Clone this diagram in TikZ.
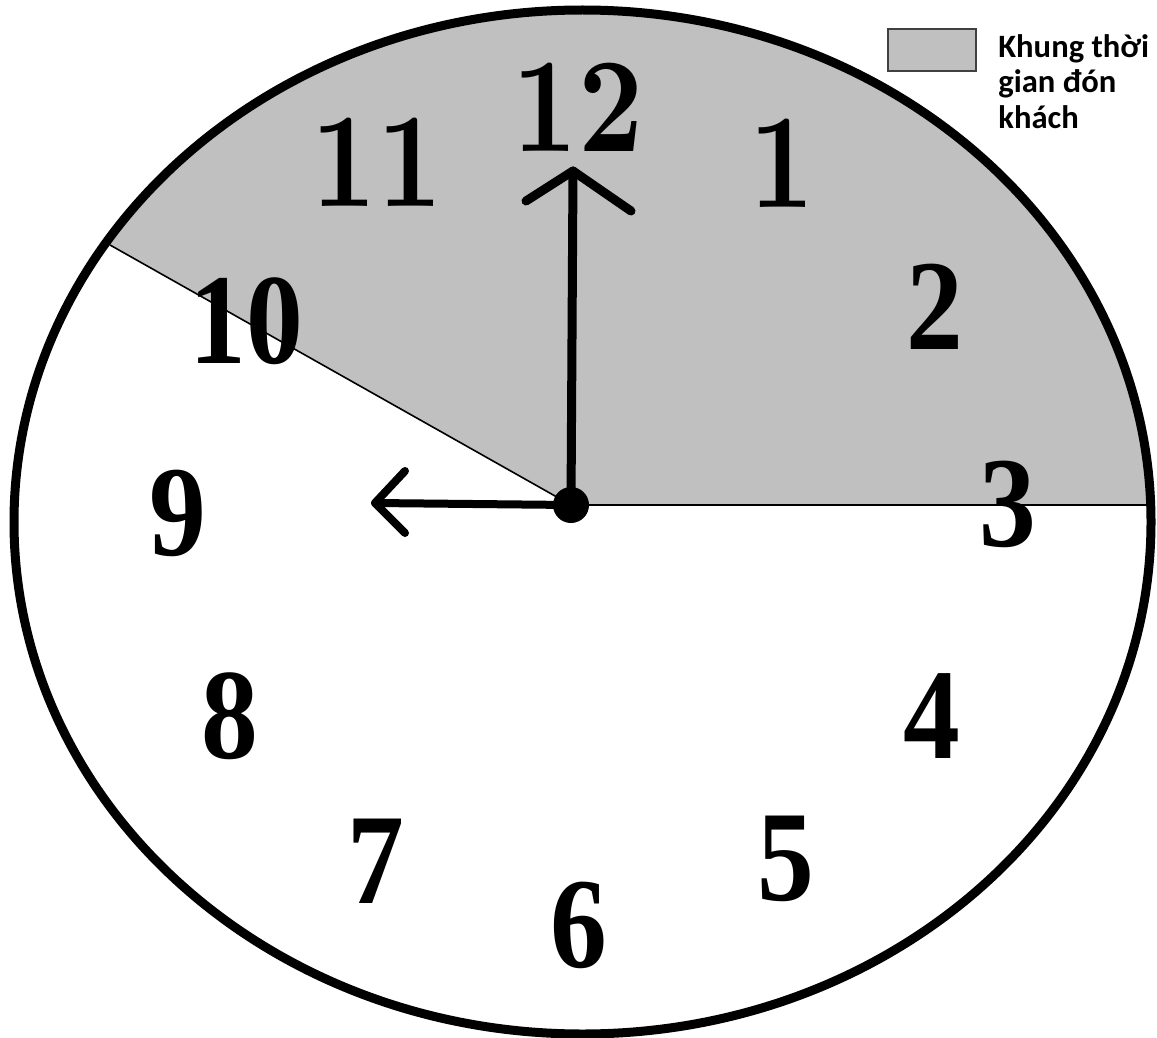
\documentclass[tikz,border=0pt]{standalone}
\usepackage{fontspec}
\newfontfamily\legendfont{Carlito}
\newfontfamily\dialfont[FakeStretch=0.88]{Liberation Serif}
\newfontfamily\cmdial[FakeStretch=0.84]{lmroman10-bold.otf}
\definecolor{clkgray}{RGB}{192,192,192}
\definecolor{keyedge}{RGB}{64,64,64}
\usetikzlibrary{positioning}

\begin{document}
\begin{tikzpicture}[x=0.5pt,y=-0.5pt,
  hand/.style={line width=4.5pt,line cap=round,line join=round},
  divider/.style={line width=0.8pt},
  numtm/.style={inner sep=0,font=\dialfont\bfseries\fontsize{64.5}{70}\selectfont},
  numcm/.style={inner sep=0,font=\cmdial\fontsize{67.5}{70}\selectfont},
  keybox/.style={draw=keyedge,line width=1pt,fill=clkgray,minimum width=44pt,minimum height=21pt,inner sep=0}]
  \useasboundingbox (0,0) rectangle (1157,1038);
  \coordinate (c) at (571,505);
  \coordinate (rim10) at (110,245);
  \coordinate (rim3) at (1151,505);
  % Pickup period
  \begin{scope}
    \clip (582.5,522) ellipse [x radius=568.5,y radius=512];
    \fill[clkgray] (c) -- (1200,505) -- (1200,-20) -- (-50,-20) -- (-50,155) -- cycle;
  \end{scope}
  \draw[divider] (c) -- (rim10);
  \draw[divider] (c) -- (rim3);
  \draw[line width=4.5pt] (582.5,522) ellipse [x radius=568.5,y radius=512];
  % Dial numbers
  \node[numcm] (n12) at (578,107) {12};
  \node[numcm] (n11) at (377,162) {11};
  \node[numcm] (n1) at (782,163) {1};
  \node[numtm] (n10) at (246,321) {10};
  \node[numtm] (n2) at (935,307) {2};
  \node[numtm] (n9) at (178,513) {9};
  \node[numtm] (n3) at (1008,504) {3};
  \node[numtm] (n8) at (230,716) {8};
  \node[numtm] (n4) at (932,716) {4};
  \node[numtm] (n7) at (376,861) {7};
  \node[numtm] (n5) at (786,859) {5};
  \node[numtm] (n6) at (579,925) {6};
  % Hands
  \coordinate (mtip) at (573,171);
  \coordinate (marmL) at (526,201);
  \coordinate (marmR) at (631,211);
  \coordinate (htip) at (375,503);
  \coordinate (harmU) at (405,471);
  \coordinate (harmD) at (405,533);
  \draw[hand] (c) -- (mtip);
  \draw[hand] (marmL) -- (mtip) -- (marmR);
  \draw[hand,line width=4pt] (c) -- (htip);
  \draw[hand,line width=4pt] (harmU) -- (htip) -- (harmD);
  \fill (c) circle[radius=18];
  % Legend
  \node[keybox] (key) at (932,50) {};
  \node[inner sep=0,anchor=north west,align=left,font=\legendfont\bfseries\fontsize{16.3}{17.8}\selectfont] (keytext) at (998,34) {Khung thời\\gian đón\\khách};
\end{tikzpicture}
\end{document}
